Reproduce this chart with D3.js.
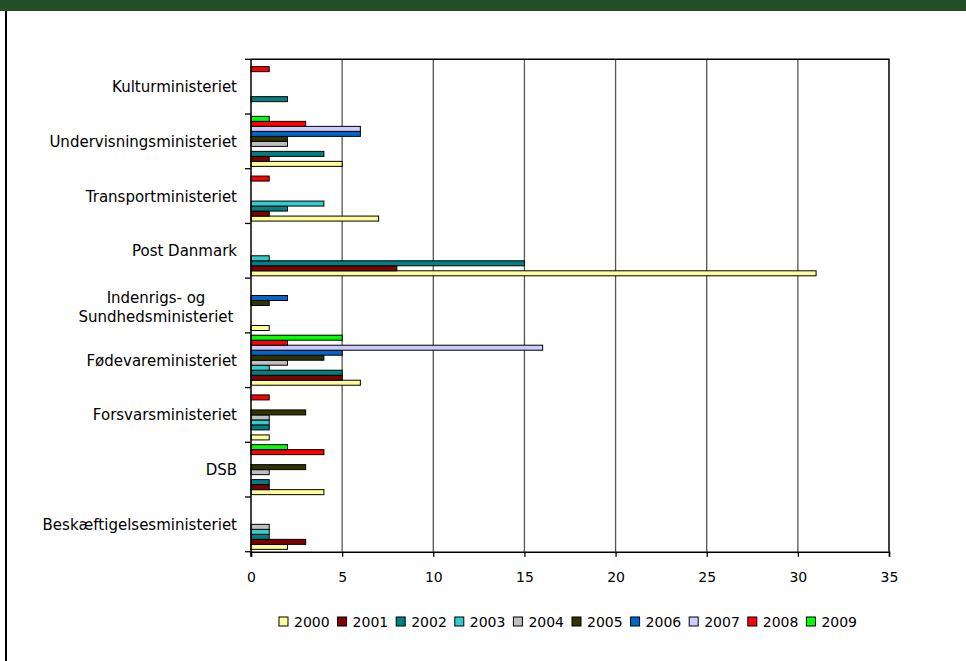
<!DOCTYPE html>
<html>
<head>
<meta charset="utf-8">
<script src="https://cdn.jsdelivr.net/npm/d3@7"></script>
<style>
  body { margin: 0; background: #fff; }
  svg text { font-family: "DejaVu Sans", sans-serif; fill: #000; }
</style>
</head>
<body>
<div id="vis"></div>
<script>
// kategorier, nederst først (som i Excel)
const categories = [
    "Beskæftigelsesministeriet",
    "DSB",
    "Forsvarsministeriet",
    "Fødevareministeriet",
    "Indenrigs- og Sundhedsministeriet",
    "Post Danmark",
    "Transportministeriet",
    "Undervisningsministeriet",
    "Kulturministeriet"
];

const years = ["2000", "2001", "2002", "2003", "2004", "2005", "2006", "2007", "2008", "2009"];

// en række pr. år, værdier i samme rækkefølge som categories
const v2000 = [2, 4, 1, 6, 1, 31, 7, 5, 0];
const v2001 = [3, 1, 0, 5, 0, 8, 1, 1, 0];
const v2002 = [1, 1, 1, 5, 0, 15, 2, 4, 2];
const v2003 = [1, 0, 1, 1, 0, 1, 4, 0, 0];
const v2004 = [1, 1, 1, 2, 0, 0, 0, 2, 0];
const v2005 = [0, 3, 3, 4, 1, 0, 0, 2, 0];
const v2006 = [0, 0, 0, 5, 2, 0, 0, 6, 0];
const v2007 = [0, 0, 0, 16, 0, 0, 0, 6, 0];
const v2008 = [0, 4, 1, 2, 0, 0, 1, 3, 1];
const v2009 = [0, 2, 0, 5, 0, 0, 0, 1, 0];

const xTicks = [0, 5, 10, 15, 20, 25, 30, 35];

const colors = ["#FFFF99", "#800000", "#008080", "#33CCCC", "#C0C0C0",
                "#333300", "#0066CC", "#CCCCFF", "#FF0000", "#00FF00"];

const series = [v2000, v2001, v2002, v2003, v2004, v2005, v2006, v2007, v2008, v2009];

const W = 966, H = 661;
const plot = { left: 251, right: 889, top: 59.3, bottom: 551.7 };

const svg = d3.select("#vis").append("svg")
    .attr("width", W).attr("height", H);

// grøn topbjælke og venstre kant
svg.append("rect").attr("x", 0).attr("y", 0).attr("width", W).attr("height", 11)
    .attr("fill", "#234F2B");
svg.append("line").attr("x1", 6).attr("x2", 6).attr("y1", 11).attr("y2", H)
    .attr("stroke", "#000").attr("stroke-width", 2);

// skalaer
const x = d3.scaleLinear().domain([0, 35]).range([plot.left, plot.right]);

const y0 = d3.scaleBand()
    .domain(categories.slice().reverse())
    .range([plot.top, plot.bottom])
    .padding(0);

const y1 = d3.scaleBand()
    .domain(years.slice().reverse())
    .range([0, y0.bandwidth()])
    .paddingInner(0)
    .paddingOuter(0.47);

const color = d3.scaleOrdinal().domain(years).range(colors);

// gitterlinjer
svg.append("g").selectAll("line")
    .data(xTicks.slice(1, -1))
    .join("line")
    .attr("x1", d => x(d)).attr("x2", d => x(d))
    .attr("y1", plot.top).attr("y2", plot.bottom)
    .attr("stroke", "#555").attr("stroke-width", 1.3);

// ramme top/højre
svg.append("path")
    .attr("d", `M${plot.left},${plot.top}H${plot.right}V${plot.bottom}`)
    .attr("fill", "none").attr("stroke", "#000").attr("stroke-width", 1.5);

// søjler
const rows = [];
categories.forEach((c, ci) => {
    years.forEach((yr, yi) => {
        rows.push({ category: c, year: yr, value: series[yi][ci] });
    });
});

svg.append("g").selectAll("rect")
    .data(rows.filter(d => d.value > 0))
    .join("rect")
    .attr("x", x(0))
    .attr("y", d => y0(d.category) + y1(d.year))
    .attr("width", d => x(d.value) - x(0))
    .attr("height", y1.bandwidth())
    .attr("fill", d => color(d.year))
    .attr("stroke", "#000")
    .attr("stroke-width", 1);

// x-akse
const xAxis = svg.append("g")
    .attr("transform", `translate(0,${plot.bottom})`)
    .call(d3.axisBottom(x).tickValues(xTicks).tickSize(5).tickPadding(15));
xAxis.select(".domain").attr("stroke", "#000").attr("stroke-width", 1.5);
xAxis.selectAll(".tick line").attr("stroke", "#000").attr("stroke-width", 1.3);
xAxis.selectAll(".tick text").attr("font-size", 14).attr("font-family", "DejaVu Sans");

// y-akse (streger mellem kategorierne)
const yAxis = svg.append("g");
yAxis.append("line")
    .attr("x1", plot.left).attr("x2", plot.left)
    .attr("y1", plot.top).attr("y2", plot.bottom + 5)
    .attr("stroke", "#000").attr("stroke-width", 1.5);
yAxis.selectAll(".tk")
    .data(d3.range(categories.length + 1))
    .join("line")
    .attr("class", "tk")
    .attr("x1", plot.left - 6).attr("x2", plot.left)
    .attr("y1", i => plot.top + i * y0.step())
    .attr("y2", i => plot.top + i * y0.step())
    .attr("stroke", "#000").attr("stroke-width", 1.3);

// kategorietiketter
const labelX = 237;
categories.forEach(c => {
    const cy = y0(c) + y0.bandwidth() / 2;
    if (c.startsWith("Indenrigs")) {
        const g = svg.append("text").attr("font-size", 15).attr("text-anchor", "middle");
        g.append("tspan").attr("x", 156).attr("y", cy - 3).text("Indenrigs- og");
        g.append("tspan").attr("x", 156).attr("y", cy + 16).text("Sundhedsministeriet");
    } else {
        svg.append("text")
            .attr("x", labelX).attr("y", cy + 5.5)
            .attr("text-anchor", "end")
            .attr("font-size", 15)
            .text(c);
    }
});

// forklaring
const legend = svg.append("g").attr("transform", "translate(279,617)");
const item = legend.selectAll("g")
    .data(years)
    .join("g")
    .attr("transform", (d, i) => `translate(${i * 58.6},0)`);
item.append("rect")
    .attr("width", 9).attr("height", 9)
    .attr("fill", d => color(d))
    .attr("stroke", "#000").attr("stroke-width", 1);
item.append("text")
    .attr("x", 15).attr("y", 10)
    .attr("font-size", 14)
    .text(d => d);
</script>
</body>
</html>
